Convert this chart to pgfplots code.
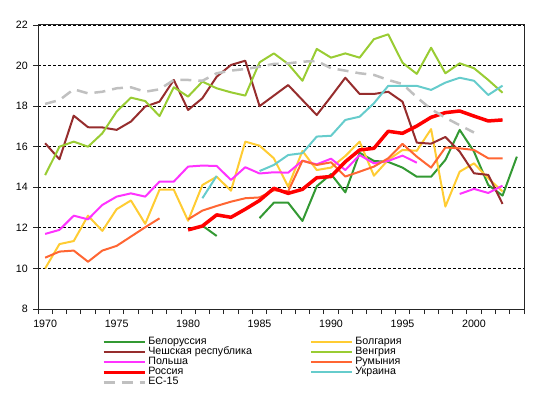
\documentclass[border=0pt]{standalone}
\usepackage{fontspec}
\setmainfont{Liberation Sans}
\usepackage{pgfplots}
\usepackage{pgfplotstable}
\pgfplotsset{compat=1.18}

\definecolor{cBel}{RGB}{51,153,51}
\definecolor{cBul}{RGB}{255,204,51}
\definecolor{cCze}{RGB}{150,45,45}
\definecolor{cHun}{RGB}{153,204,51}
\definecolor{cPol}{RGB}{255,51,255}
\definecolor{cRom}{RGB}{255,102,51}
\definecolor{cRus}{RGB}{255,0,0}
\definecolor{cUkr}{RGB}{102,204,204}
\definecolor{cEU}{RGB}{192,192,192}

\pgfplotstableread{
year Bel Bul Cze Hun Pol Rom Rus Ukr EU
1970 nan 10.00 16.17 14.60 11.70 10.53 nan nan 18.11
1971 nan 11.20 15.38 16.00 11.90 10.83 nan nan 18.30
1972 nan 11.35 17.53 16.25 12.60 10.88 nan nan 18.83
1973 nan 12.60 16.96 16.00 12.42 10.33 nan nan 18.63
1974 nan 11.85 16.95 16.66 13.13 10.88 nan nan 18.71
1975 nan 12.92 16.83 17.73 13.54 11.11 nan nan 18.88
1976 nan 13.35 17.24 18.42 13.70 11.57 nan nan 18.93
1977 nan 12.20 17.98 18.25 13.54 12.03 nan nan 18.71
1978 nan 13.88 18.22 17.51 14.28 12.47 nan nan 18.83
1979 nan 13.88 19.29 18.93 14.28 nan nan nan 19.29
1980 nan 12.35 17.81 18.47 15.02 12.42 11.90 nan 19.29
1981 12.11 14.11 18.39 19.21 15.07 12.85 12.09 13.46 19.25
1982 11.60 14.52 19.45 18.88 15.05 13.08 12.64 14.56 19.62
1983 nan 13.83 20.03 18.68 14.36 13.29 12.52 nan 19.75
1984 nan 16.25 20.24 18.52 14.99 13.46 12.92 nan 19.83
1985 12.48 16.05 18.00 20.16 14.68 13.50 13.35 14.80 19.94
1986 13.24 15.43 18.52 20.60 14.74 13.85 13.95 15.10 20.08
1987 13.24 14.03 19.04 20.08 14.72 13.80 13.70 15.59 20.11
1988 12.34 15.79 18.30 19.25 15.31 15.31 13.90 15.68 20.19
1989 14.05 14.85 17.56 20.82 15.13 15.10 14.47 16.50 20.23
1990 14.65 14.97 18.47 20.39 15.41 15.23 14.53 16.54 19.87
1991 13.75 15.54 19.40 20.60 14.85 14.53 15.26 17.32 19.75
1992 15.70 16.25 18.60 20.39 15.59 14.77 15.84 17.48 19.62
1993 15.30 14.57 18.60 21.30 15.18 15.02 15.92 18.14 19.54
1994 15.25 15.35 18.71 21.54 15.30 15.43 16.76 19.00 19.29
1995 14.97 15.84 18.22 20.14 15.56 16.14 16.66 19.00 19.09
1996 14.52 15.80 16.20 19.59 15.21 15.51 17.02 19.00 18.44
1997 14.52 16.87 16.15 20.88 nan 14.97 17.45 18.80 17.85
1998 15.35 13.05 16.48 19.62 nan 15.96 17.68 19.16 17.43
1999 16.83 14.77 15.76 20.11 13.67 15.92 17.76 19.40 17.06
2000 15.76 15.18 14.69 19.87 13.92 15.84 17.51 19.25 16.70
2001 14.11 14.44 14.61 19.29 13.72 15.43 17.27 18.55 nan
2002 13.59 13.79 13.18 18.66 14.08 15.43 17.32 19.01 nan
2003 15.51 nan nan nan nan nan nan nan nan
}\datatable

\begin{document}
\begin{tikzpicture}[font=\fontsize{10.67bp}{12bp}\selectfont]
\path[use as bounding box] (0bp,0bp) rectangle (539bp,398bp);
\begin{axis}[
  at={(38bp,89bp)}, anchor=south west,
  scale only axis, width=486bp, height=284bp,
  xmin=1969.5, xmax=2003.5, ymin=8, ymax=22,
  xtick={1970,1975,...,2000},
  minor xtick={1969.5,1970.5,...,2003.5},
  ytick={8,10,...,22},
  minor ytick={8,10,...,22},
  ymajorgrids,
  grid style={black, dash pattern=on 3bp off 2bp, line width=0.8bp},
  tick align=outside, tick pos=left,
  major tick length=0bp, minor tick length=5bp,
  every tick/.append style={line width=0.8bp, black!85},
  axis line style={line width=1bp, black!85},
  /pgf/number format/1000 sep={},
  /pgf/number format/assume math mode=true,
  tick label style={font=\fontsize{10.67bp}{12bp}\selectfont, black},
  xticklabel style={anchor=north, inner sep=0pt, yshift=-11.2bp},
  yticklabel style={anchor=east, inner sep=0pt, xshift=-10bp},
  unbounded coords=jump,
  legend columns=2,
  legend cell align=left,
  legend style={at={(0.131,-0.0996)}, anchor=north west, draw=none, fill=none,
    inner sep=0pt, row sep=0pt,
    nodes={inner xsep=2bp, inner ysep=0pt, text height=7.5bp, text depth=2.5bp, anchor=west},
    font=\fontsize{10.67bp}{12bp}\selectfont},
  legend image code/.code={\draw[#1, line cap=butt] (0bp,0bp) -- (41bp,0bp);},
  every axis plot/.append style={line join=round, line width=2bp},
]
\addplot[cBel] table[x=year, y=Bel] {\datatable};
\addlegendentry{\makebox[160bp][l]{Белоруссия}}
\addplot[cBul] table[x=year, y=Bul] {\datatable};
\addlegendentry{Болгария}
\addplot[cCze] table[x=year, y=Cze] {\datatable};
\addlegendentry{\makebox[160bp][l]{Чешская республика}}
\addplot[cHun] table[x=year, y=Hun] {\datatable};
\addlegendentry{Венгрия}
\addplot[cPol] table[x=year, y=Pol] {\datatable};
\addlegendentry{\makebox[160bp][l]{Польша}}
\addplot[cRom] table[x=year, y=Rom] {\datatable};
\addlegendentry{Румыния}
\addplot[cRus, line width=3.5bp] table[x=year, y=Rus] {\datatable};
\addlegendentry{\makebox[160bp][l]{Россия}}
\addplot[cUkr] table[x=year, y=Ukr] {\datatable};
\addlegendentry{Украина}
\addplot[cEU, line width=2.5bp, dash pattern=on 11bp off 7bp, line cap=butt] table[x=year, y=EU] {\datatable};
\addlegendentry{\makebox[160bp][l]{ЕС-15}}
\end{axis}
\end{tikzpicture}
\end{document}
